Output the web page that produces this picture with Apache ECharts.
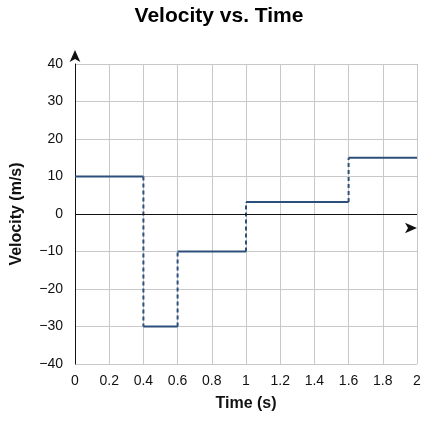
<!DOCTYPE html>
<html><head><meta charset="utf-8">
<script src="https://cdn.jsdelivr.net/npm/echarts@6/dist/echarts.min.js"></script>
<style>html,body{margin:0;padding:0;background:#fff}#c{width:438px;height:424px}</style>
</head><body><div id="c"></div>
<script>
const breaks = [0, 0.4, 0.6, 1, 1.6, 2];
const velocities = [10, -30, -10, 3.2, 15];
const yTicks = [-40, -30, -20, -10, 0, 10, 20, 30, 40];

const horiz = [], vert = [];
for (let i = 0; i < velocities.length; i++) {
  horiz.push([breaks[i], velocities[i]], [breaks[i+1], velocities[i]], [null, null]);
  if (i > 0) vert.push([breaks[i], velocities[i-1]], [breaks[i], velocities[i]], [null, null]);
}
const fmt = v => v < 0 ? '\u2212' + Math.abs(v) : String(v);
const chart = echarts.init(document.getElementById('c'));
chart.setOption({
  animation: false,
  title: { text: 'Velocity vs. Time', left: 'center', top: 1,
    textStyle: { fontFamily: 'Liberation Sans', fontSize: 21, fontWeight: 'bold', color: '#000' } },
  grid: { left: 75, right: 21, top: 64, bottom: 60 },
  xAxis: {
    type: 'value', min: 0, max: 2, interval: 0.2,
    name: 'Time (s)', nameLocation: 'middle', nameGap: 32,
    nameTextStyle: { fontFamily: 'Liberation Sans', fontSize: 16, fontWeight: 'bold', color: '#111' },
    axisLine: { show: false }, axisTick: { show: false },
    axisLabel: { fontFamily: 'Liberation Sans', fontSize: 14, color: '#111', margin: 10, formatter: v => String(+v.toFixed(1)) },
    splitLine: { show: true, lineStyle: { color: '#c8c8c8' } }
  },
  yAxis: {
    type: 'value', min: -40, max: 40, interval: 10,
    name: 'Velocity (m/s)', nameLocation: 'middle', nameGap: 50,
    nameTextStyle: { fontFamily: 'Liberation Sans', fontSize: 16, fontWeight: 'bold', color: '#111' },
    axisLine: { show: true, onZero: false, symbol: ['none', 'arrow'], symbolSize: [8, 12], symbolOffset: [0, 14], lineStyle: { color: '#111', width: 1 } },
    axisTick: { show: false },
    axisLabel: { fontFamily: 'Liberation Sans', fontSize: 14, color: '#111', margin: 12, formatter: fmt },
    splitLine: { show: true, lineStyle: { color: '#c8c8c8' } }
  },
  series: [
    { type: 'line', data: horiz, symbol: 'none', connectNulls: false, clip: false, z: 3,
      lineStyle: { color: '#2c4f7c', width: 2 },
      markLine: { silent: true, symbol: ['none', 'arrow'], symbolSize: [8, 12], label: { show: false },
        lineStyle: { color: '#111', width: 1, type: 'solid' },
        data: [[{ coord: [0, 0] }, { coord: [2, 0], symbolOffset: [14, 0] }]] } },
    { type: 'line', data: vert, symbol: 'none', connectNulls: false,
      lineStyle: { color: '#2c4f7c', width: 2, type: [4, 3] } }
  ]
});
</script></body></html>
